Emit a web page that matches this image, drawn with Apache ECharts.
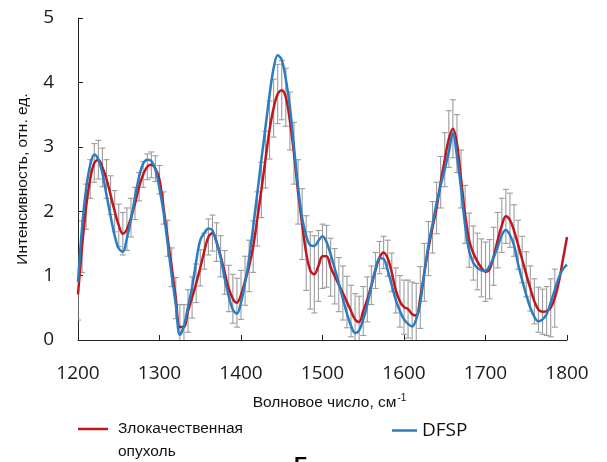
<!DOCTYPE html>
<html>
<head>
<meta charset="utf-8">
<script src="https://cdn.jsdelivr.net/npm/echarts@6/dist/echarts.min.js"></script>
<style>
  html, body { margin: 0; padding: 0; background: #ffffff; }
  #chart { width: 607px; height: 462px; }
</style>
</head>
<body>
<div id="chart"></div>
<script>
// Raman spectra: mean intensity of malignant tumour vs DFSP, sampled every 5 cm-1
const START_WN = 1200;
const STEP_WN = 5;

const malignant = [
  0.71, 1.45, 2.07, 2.50, 2.75, 2.80, 2.68, 2.50, 2.25, 2.00,
  1.78, 1.65, 1.72, 1.90, 2.12, 2.38, 2.57, 2.69, 2.72, 2.66,
  2.49, 2.05, 1.58, 1.13, 0.65, 0.20, 0.20, 0.45, 0.66, 0.88,
  1.12, 1.38, 1.60, 1.66, 1.52, 1.30, 1.05, 0.80, 0.64, 0.58,
  0.70, 0.92, 1.15, 1.45, 1.88, 2.33, 2.80, 3.26, 3.60, 3.82,
  3.88, 3.77, 3.40, 2.90, 2.30, 1.80, 1.35, 1.08, 1.02, 1.15,
  1.30, 1.30, 1.13, 0.99, 0.86, 0.73, 0.59, 0.45, 0.32, 0.28,
  0.45, 0.63, 0.85, 1.08, 1.28, 1.36, 1.27, 1.05, 0.77, 0.60,
  0.51, 0.48, 0.40, 0.38, 0.66, 1.05, 1.42, 1.75, 2.05, 2.45,
  2.80, 3.12, 3.28, 3.05, 2.50, 1.95, 1.55, 1.35, 1.22, 1.12,
  1.06, 1.10, 1.30, 1.55, 1.78, 1.92, 1.86, 1.70, 1.48, 1.25,
  1.02, 0.80, 0.60, 0.47, 0.44, 0.45, 0.50, 0.65, 0.90, 1.25,
  1.60
];

// standard deviation of the malignant spectrum (no bars past 1785 cm-1)
const malignantSd = [
  0.40, 0.40, 0.35, 0.30, 0.30, 0.30, 0.30, 0.30, 0.30, 0.32,
  0.33, 0.33, 0.33, 0.30, 0.25, 0.22, 0.20, 0.20, 0.20, 0.20,
  0.22, 0.25, 0.28, 0.30, 0.32, 0.35, 0.35, 0.33, 0.32, 0.30,
  0.28, 0.28, 0.28, 0.28, 0.30, 0.32, 0.34, 0.36, 0.38, 0.38,
  0.38, 0.38, 0.40, 0.40, 0.42, 0.43, 0.44, 0.45, 0.45, 0.46,
  0.46, 0.45, 0.45, 0.48, 0.50, 0.55, 0.58, 0.60, 0.60, 0.55,
  0.50, 0.48, 0.45, 0.43, 0.42, 0.42, 0.40, 0.40, 0.40, 0.40,
  0.38, 0.35, 0.30, 0.28, 0.25, 0.25, 0.28, 0.30, 0.35, 0.40,
  0.42, 0.45, 0.50, 0.50, 0.48, 0.45, 0.42, 0.40, 0.40, 0.40,
  0.42, 0.44, 0.45, 0.45, 0.45, 0.45, 0.42, 0.42, 0.44, 0.45,
  0.46, 0.46, 0.45, 0.43, 0.42, 0.42, 0.42, 0.40, 0.38, 0.36,
  0.35, 0.35, 0.35, 0.35, 0.35, 0.38, 0.45, 0.45, null, null,
  null
];

const dfsp = [
  0.90, 1.75, 2.35, 2.72, 2.88, 2.80, 2.59, 2.25, 1.92, 1.62,
  1.42, 1.37, 1.58, 1.87, 2.22, 2.54, 2.74, 2.80, 2.78, 2.65,
  2.35, 1.98, 1.50, 1.00, 0.55, 0.08, 0.22, 0.52, 0.82, 1.22,
  1.55, 1.66, 1.73, 1.70, 1.52, 1.28, 0.95, 0.68, 0.47, 0.41,
  0.58, 0.88, 1.28, 1.76, 2.28, 2.80, 3.30, 3.80, 4.22, 4.42,
  4.35, 4.05, 3.62, 3.00, 2.38, 1.90, 1.62, 1.47, 1.46, 1.54,
  1.61, 1.52, 1.33, 1.11, 0.88, 0.64, 0.41, 0.22, 0.11, 0.15,
  0.32, 0.55, 0.84, 1.10, 1.27, 1.26, 1.08, 0.85, 0.62, 0.45,
  0.32, 0.25, 0.21, 0.32, 0.58, 1.05, 1.48, 1.80, 2.13, 2.40,
  2.65, 2.92, 3.21, 2.85, 2.35, 1.78, 1.38, 1.20, 1.12, 1.08,
  1.07, 1.15, 1.28, 1.45, 1.63, 1.71, 1.63, 1.47, 1.18, 0.93,
  0.70, 0.50, 0.36, 0.29, 0.32, 0.40, 0.58, 0.78, 0.97, 1.10,
  1.17
];

const xTicks = [1200, 1300, 1400, 1500, 1600, 1700, 1800];
const yTicks = [0, 1, 2, 3, 4, 5];

const NAME_MALIGNANT = 'Злокачественная опухоль';
const NAME_DFSP = 'DFSP';

const wavenumbers = malignant.map((_, i) => START_WN + i * STEP_WN);
const malignantPts = wavenumbers.map((w, i) => [w, malignant[i]]);
const dfspPts = wavenumbers.map((w, i) => [w, dfsp[i]]);
const errPts = [];
wavenumbers.forEach((w, i) => {
  if (malignantSd[i] != null) errPts.push([w, malignant[i], malignantSd[i]]);
});

const RED = '#C2161F';
const BLUE = '#2A7DC1';
const TICK_FONT = '"Open Sans", "Noto Sans", sans-serif';
const TEXT_FONT = '"Liberation Sans", Arial, sans-serif';

const chart = echarts.init(document.getElementById('chart'), null, { renderer: 'canvas' });

chart.setOption({
  animation: false,
  backgroundColor: '#ffffff',
  grid: { left: 78, right: 40, top: 18, bottom: 122, containLabel: false },
  xAxis: {
    type: 'value',
    min: xTicks[0],
    max: xTicks[xTicks.length - 1],
    interval: 100,
    name: 'Волновое число, см{sup|-1}',
    nameLocation: 'middle',
    nameGap: 53,
    nameTextStyle: {
      fontFamily: TEXT_FONT, fontSize: 15.5, color: '#111',
      padding: [0, 0, 0, 14],
      rich: { sup: { fontFamily: TEXT_FONT, fontSize: 10, color: '#111', padding: [0, 0, 9, 1] } }
    },
    axisLine: { show: true, lineStyle: { color: '#222', width: 1 } },
    axisTick: { show: true, inside: true, length: 5, lineStyle: { color: '#222' } },
    axisLabel: {
      margin: 24, fontFamily: TICK_FONT, fontSize: 19, color: '#1a1a1a',
      formatter: v => String(v)
    },
    splitLine: { show: false }
  },
  yAxis: {
    type: 'value',
    min: yTicks[0],
    max: yTicks[yTicks.length - 1],
    interval: 1,
    name: 'Интенсивность, отн. ед.',
    nameLocation: 'middle',
    nameGap: 47,
    nameTextStyle: { fontFamily: TEXT_FONT, fontSize: 15.5, color: '#111' },
    axisLine: { show: true, lineStyle: { color: '#222', width: 1 } },
    axisTick: { show: true, inside: true, length: 5, lineStyle: { color: '#222' } },
    axisLabel: { margin: 24, fontFamily: TICK_FONT, fontSize: 19, color: '#1a1a1a' },
    splitLine: { show: false }
  },
  legend: [
    {
      data: [NAME_MALIGNANT],
      left: 78,
      top: 398,
      padding: 0,
      icon: 'rect',
      itemWidth: 30,
      itemHeight: 2.5,
      // an empty first row keeps the swatch level with the first word
      formatter: name => '{t| }\n{t|' + name.replace(' ', '}\n{t|') + '}',
      textStyle: {
        fontFamily: TEXT_FONT, fontSize: 15.5, color: '#111',
        rich: { t: { fontFamily: TEXT_FONT, fontSize: 15.5, color: '#111', lineHeight: 23, padding: [0, 0, 0, 5] } }
      }
    },
    {
      data: [NAME_DFSP],
      left: 392,
      top: 421,
      padding: 0,
      icon: 'rect',
      itemWidth: 25,
      itemHeight: 2.5,
      textStyle: { fontFamily: TICK_FONT, fontSize: 19, color: '#111' }
    }
  ],
  graphic: [
    {
      type: 'text',
      left: 294,
      top: 455,
      style: { text: 'Б', fontFamily: TEXT_FONT, fontWeight: 'bold', fontSize: 21, fill: '#000' }
    }
  ],
  series: [
    {
      type: 'custom',
      name: 'sd',
      clip: true,
      z: 1,
      silent: true,
      data: errPts,
      renderItem: function (params, api) {
        const x = api.value(0), y = api.value(1), e = api.value(2);
        const top = api.coord([x, y + e]);
        const bot = api.coord([x, y - e]);
        const cap = 3;
        const st = { stroke: '#9c9c9c', lineWidth: 1.1 };
        return {
          type: 'group',
          children: [
            { type: 'line', shape: { x1: top[0], y1: top[1], x2: bot[0], y2: bot[1] }, style: st },
            { type: 'line', shape: { x1: top[0] - cap, y1: top[1], x2: top[0] + cap, y2: top[1] }, style: st },
            { type: 'line', shape: { x1: bot[0] - cap, y1: bot[1], x2: bot[0] + cap, y2: bot[1] }, style: st }
          ]
        };
      }
    },
    {
      type: 'line',
      name: NAME_MALIGNANT,
      data: malignantPts,
      smooth: 0.35,
      symbol: 'none',
      z: 3,
      color: RED,
      lineStyle: { color: RED, width: 2.5 }
    },
    {
      type: 'line',
      name: NAME_DFSP,
      data: dfspPts,
      smooth: 0.35,
      symbol: 'none',
      z: 4,
      color: BLUE,
      lineStyle: { color: BLUE, width: 2.5 }
    }
  ]
});
</script>
</body>
</html>
